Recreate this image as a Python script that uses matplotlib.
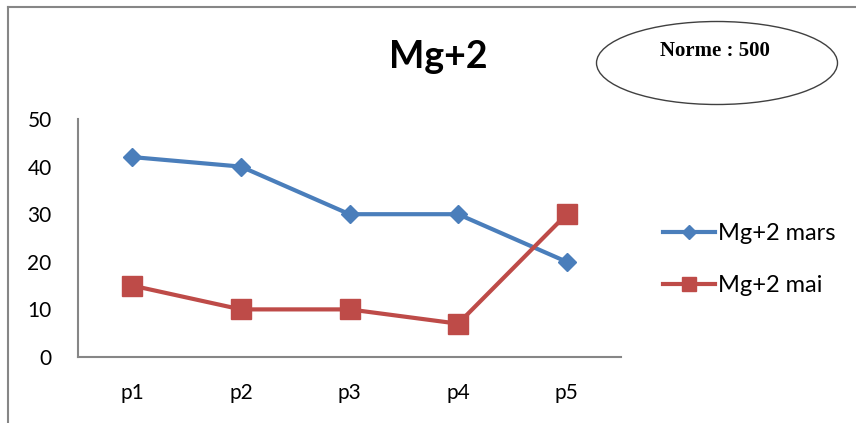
import matplotlib.pyplot as plt
from matplotlib.patches import Ellipse
from matplotlib.lines import Line2D

# valeurs Mg+2 par point de prélèvement
points = ['p1', 'p2', 'p3', 'p4', 'p5']
mg_mars = [42, 40, 30, 30, 20]
mg_mai = [15, 10, 10, 7, 30]

plt.rcParams['font.family'] = ['Lato', 'DejaVu Sans']

fig = plt.figure(figsize=(8.56, 4.23), dpi=100)
ax = fig.add_axes([78 / 856, 66 / 423, 543 / 856, 238 / 423])

x = range(len(points))
ax.plot(x, mg_mars, color='#4A7EBB', lw=3, marker='D', ms=9.5, label='Mg+2 mars')
ax.plot(x, mg_mai, color='#BE4B48', lw=3, marker='s', ms=14, label='Mg+2 mai')

ax.set_xlim(-0.5, 4.5)
ax.set_ylim(0, 50)
ax.set_yticks([0, 10, 20, 30, 40, 50])
ax.set_xticks(list(x))
ax.set_xticklabels(points)
ax.tick_params(length=0, labelsize=15)
ax.tick_params(axis='y', pad=19)
ax.tick_params(axis='x', pad=19)
for s in ['top', 'right']:
    ax.spines[s].set_visible(False)
for s in ['left', 'bottom']:
    ax.spines[s].set_color('#868686')
    ax.spines[s].set_linewidth(1.5)

fig.text(438 / 856, 1 - 57 / 423, 'Mg+2', fontsize=27, fontweight='bold',
         ha='center', va='center')

leg = ax.legend(loc='center left', bbox_to_anchor=(1.038, 0.41), frameon=False,
                fontsize=17, handlelength=2.2, handletextpad=0.15,
                labelspacing=1.3, markerscale=0.7)

# cadre du graphique
fig.add_artist(Line2D([8 / 856, 1], [1 - 7 / 423] * 2, color='#868686', lw=1.5))
fig.add_artist(Line2D([8 / 856] * 2, [0, 1 - 7 / 423], color='#868686', lw=1.5))

# norme dans une ellipse
el = Ellipse((717 / 856, 1 - 63 / 423), 241 / 856, 83 / 423,
             transform=fig.transFigure, fill=False, ec='#404040', lw=1)
fig.add_artist(el)
fig.text(715 / 856, 1 - 51 / 423, 'Norme : 500', family='Liberation Serif',
         fontweight='bold', fontsize=15, ha='center', va='center')

fig.savefig('out.png', dpi=100)
